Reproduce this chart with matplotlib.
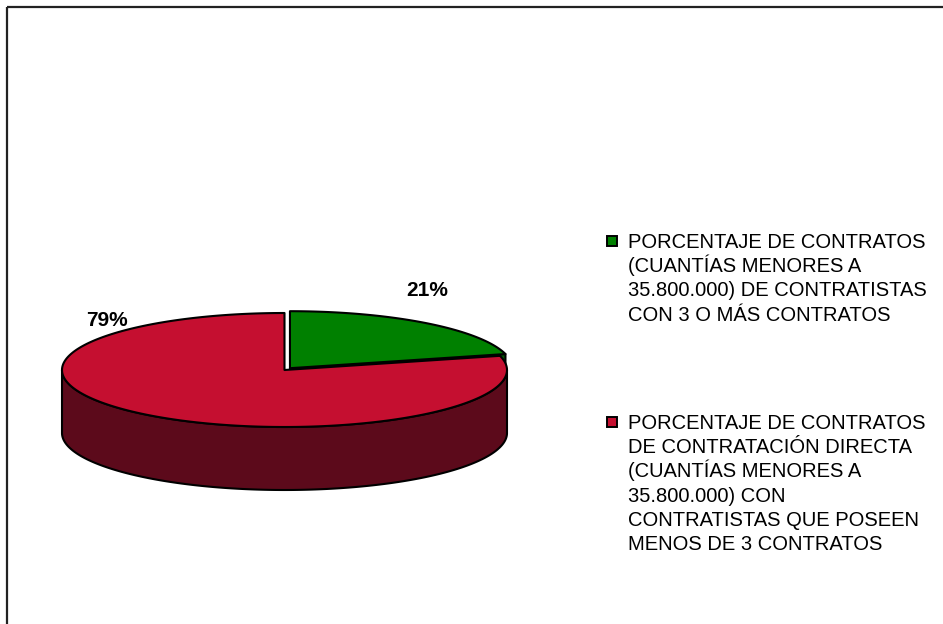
import numpy as np
import matplotlib
matplotlib.use('Agg')
import matplotlib.pyplot as plt
from matplotlib.patches import Polygon, Rectangle

categories = [
    ['PORCENTAJE DE CONTRATOS', '(CUANTÍAS MENORES A',
     '35.800.000) DE CONTRATISTAS', 'CON 3 O MÁS CONTRATOS'],
    ['PORCENTAJE DE CONTRATOS', 'DE CONTRATACIÓN DIRECTA',
     '(CUANTÍAS MENORES A', '35.800.000) CON',
     'CONTRATISTAS QUE POSEEN', 'MENOS DE 3 CONTRATOS'],
]
values = [21, 79]
top_colors = ['#008000', '#C50F30']
side_colors = ['#005a00', '#5C0A1B']
explode = [0.04, 0.0]

# layout, in pixels of the 943x624 canvas
CX, CY, RX, RY, DEPTH = 284.5, 370.0, 222.5, 57.0, 63.0
LABEL_XY = [(427, 291), (107, 320)]
LEGEND_BASE = [248, 429]
LEGEND_STEP = 24.2
LEGEND_X = 628

plt.rcParams['font.family'] = ['Liberation Sans', 'DejaVu Sans']

fig = plt.figure(figsize=(9.43, 6.24), dpi=100)
ax = fig.add_axes([0, 0, 1, 1])
ax.set_xlim(0, 943)
ax.set_ylim(624, 0)
ax.axis('off')


def pt(ox, oy, t, drop=0.0):
    r = np.radians(t)
    return CX + ox + RX * np.cos(r), CY + oy - RY * np.sin(r) + drop


def runs(mask):
    out, start = [], None
    for i, m in enumerate(mask):
        if m and start is None:
            start = i
        elif not m and start is not None:
            out.append((start, i))
            start = None
    if start is not None:
        out.append((start, len(mask)))
    return out


edge = dict(edgecolor='black', linewidth=1.5, joinstyle='round')
total = float(sum(values))
angles = []
a = 90.0
for v in values:
    angles.append((a, a - v / total * 360.0))
    a -= v / total * 360.0

# back slices first, so the front one covers them
for i in range(len(values)):
    t0, t1 = angles[i]
    mid = np.radians((t0 + t1) / 2)
    ox = explode[i] * RX * np.cos(mid)
    oy = -explode[i] * RY * np.sin(mid)
    c = (CX + ox, CY + oy)

    # radial faces that turn towards the viewer
    for ta, normal in ((t0, t0 + 90), (t1, t1 - 90)):
        if np.sin(np.radians(normal)) < -1e-6:
            e = pt(ox, oy, ta)
            face = [c, e, (e[0], e[1] + DEPTH), (c[0], c[1] + DEPTH)]
            ax.add_patch(Polygon(face, facecolor=side_colors[i], **edge))

    # curved outer wall, front half only
    ts = np.linspace(t0, t1, 600)
    front = np.sin(np.radians(ts)) < 0
    for s, e in runs(front):
        seg = ts[s:e]
        xt, yt = pt(ox, oy, seg)
        xb, yb = pt(ox, oy, seg[::-1], DEPTH)
        wall = np.column_stack([np.r_[xt, xb], np.r_[yt, yb]])
        ax.add_patch(Polygon(wall, facecolor=side_colors[i], **edge))

    xt, yt = pt(ox, oy, ts)
    top = np.column_stack([np.r_[c[0], xt], np.r_[c[1], yt]])
    ax.add_patch(Polygon(top, facecolor=top_colors[i], **edge))

for v, (lx, ly) in zip(values, LABEL_XY):
    ax.text(lx, ly, f'{v / total * 100:.0f}%', ha='center', va='center',
            fontsize=15, fontweight='bold', color='black')

for i, lines in enumerate(categories):
    base = LEGEND_BASE[i]
    ax.add_patch(Rectangle((606.5, base - 12), 10, 10, facecolor=top_colors[i],
                           edgecolor='black', linewidth=1.4))
    for k, line in enumerate(lines):
        ax.text(LEGEND_X, base + k * LEGEND_STEP, line, ha='left', va='baseline',
                fontsize=14.5, color='black')

# chart area border, cut off at the right and bottom
ax.add_patch(Rectangle((6.5, 6.5), 1200, 1200, facecolor='none',
                       edgecolor='#222222', linewidth=1.6))

fig.savefig('out.png', dpi=100)
